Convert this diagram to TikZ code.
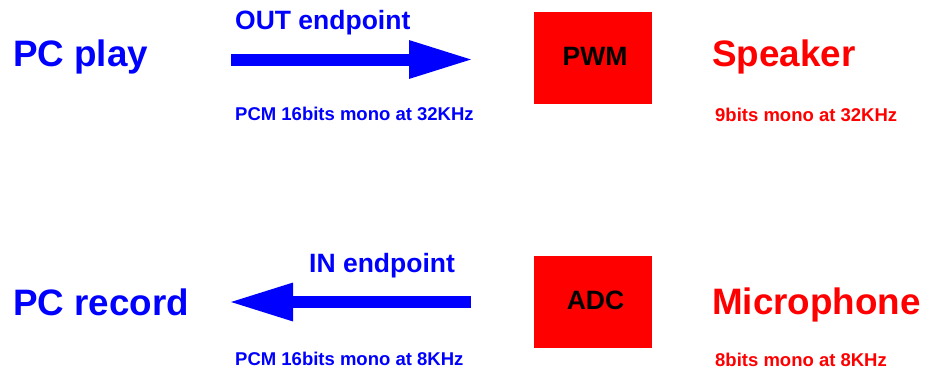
\documentclass[tikz,border=0pt]{standalone}
\usepackage{fontspec}
\setmainfont{Liberation Sans}
\usetikzlibrary{arrows.meta}

\tikzset{
    big/.style={anchor=base west, inner sep=0, font=\bfseries\fontsize{36.8}{40}\selectfont},
    mid/.style={inner sep=0, font=\bfseries\fontsize{26.5}{30}\selectfont},
    small/.style={anchor=base west, inner sep=0, font=\bfseries\fontsize{18.5}{22}\selectfont},
    chip/.style={fill=red, draw=none, minimum width=118pt, minimum height=92pt, inner sep=0},
    fat/.style={blue, line width=12pt, -{Triangle[length=65pt,width=35pt]}}
}

\begin{document}
\begin{tikzpicture}[x=1pt, y=-1pt]
        \useasboundingbox (0,0) rectangle (932,370);

        % PC side
        \node[big, blue] (play) at (13,66) {PC play};
        \node[big, blue] (record) at (13,315) {PC record};

        % endpoints
        \node[mid, blue, anchor=base west] (outep) at (235,29) {OUT endpoint};
        \node[mid, blue, anchor=base west] (inep) at (309,272) {IN endpoint};
        \coordinate (outa) at (231,59.5);
        \coordinate (outb) at (474,59.5);
        \coordinate (ina) at (471,302);
        \coordinate (inb) at (228,302);
        \draw[fat] (outa) -- (outb);
        \draw[fat] (ina) -- (inb);

        \node[small, blue] (outfmt) at (235,120) {PCM 16bits mono at 32KHz};
        \node[small, blue] (infmt) at (235,365) {PCM 16bits mono at 8KHz};

        % chips
        \node[chip] (pwm) at (593,58) {};
        \node[chip] (adc) at (593,302) {};
        \node[mid, anchor=base] at (595,65) {PWM};
        \node[mid, anchor=base] at (595.5,309) {ADC};

        % devices
        \node[big, red] (spk) at (712,66) {Speaker};
        \node[big, red] (mic) at (712,314) {Microphone};
        \node[small, red] (spkfmt) at (715,121) {9bits mono at 32KHz};
        \node[small, red] (micfmt) at (715,366) {8bits mono at 8KHz};
    \end{tikzpicture}
\end{document}
